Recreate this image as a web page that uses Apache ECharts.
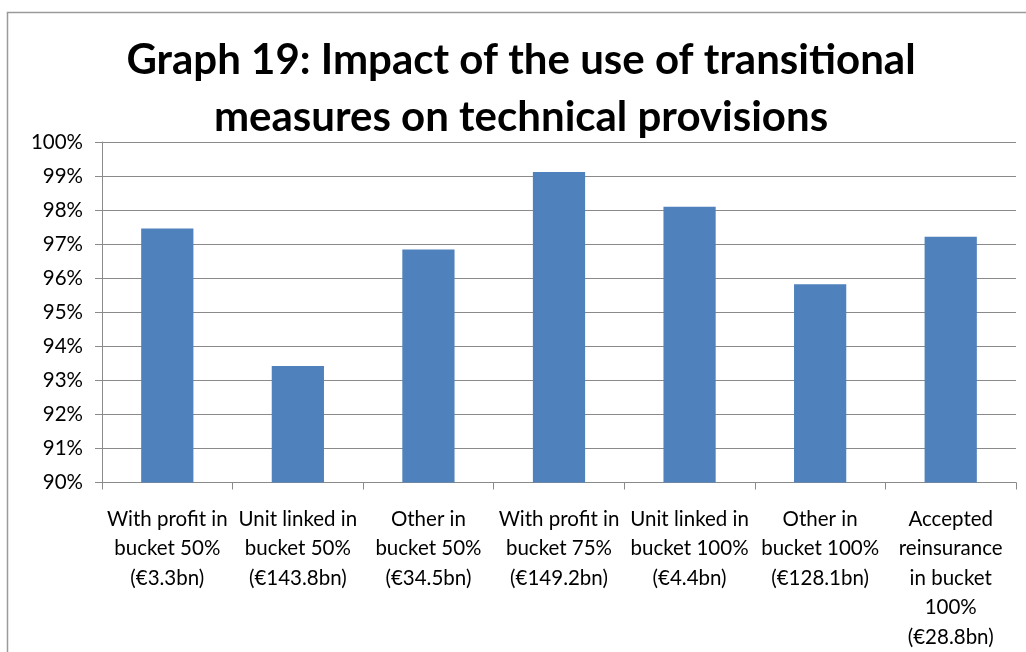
<!DOCTYPE html>
<html>
<head>
    <meta charset="utf-8">
    <title>Graph 19</title>
    <style>
        html, body { margin: 0; padding: 0; background: #fff; }
    </style>
</head>
<body>
    <div id="main" style="width: 1026px; height: 652px;"></div>
    <script src="https://cdn.jsdelivr.net/npm/echarts@6/dist/echarts.min.js"></script>
    <script type="text/javascript">
        // categories (wrapped as in the original)
        var categories = [
            'With profit in\nbucket 50%\n(€3.3bn)',
            'Unit linked in\nbucket 50%\n(€143.8bn)',
            'Other in\nbucket 50%\n(€34.5bn)',
            'With profit in\nbucket 75%\n(€149.2bn)',
            'Unit linked in\nbucket 100%\n(€4.4bn)',
            'Other in\nbucket 100%\n(€128.1bn)',
            'Accepted\nreinsurance\nin bucket\n100%\n(€28.8bn)'
        ];
        // ratio of technical provisions, in %
        var values = [97.46, 93.42, 96.84, 99.12, 98.1, 95.82, 97.22];
        var yMin = 90, yMax = 100, yStep = 1;

        var chartDom = document.getElementById('main');
        var myChart = echarts.init(chartDom);
        var font = 'Lato, "Open Sans", sans-serif';

        var option = {
            animation: false,
            title: {
                text: 'Graph 19: Impact of the use of transitional\nmeasures on technical provisions',
                left: 521,
                textAlign: 'center',
                top: 32,
                padding: 0,
                textStyle: {
                    fontFamily: font,
                    fontSize: 42,
                    fontWeight: 'bold',
                    color: '#000',
                    lineHeight: 57
                }
            },
            graphic: [{
                type: 'rect',
                shape: { x: 7.5, y: 12.5, width: 1040, height: 660 },
                style: { fill: 'none', stroke: '#9a9a9a', lineWidth: 1.5 },
                silent: true
            }],
            grid: { left: 102, right: 10, top: 142, bottom: 169 },
            xAxis: {
                type: 'category',
                data: categories,
                axisLine: { lineStyle: { color: '#8a8a8a', width: 1 } },
                axisTick: { show: true, length: 7, lineStyle: { color: '#8a8a8a' } },
                axisLabel: {
                    interval: 0,
                    margin: 22,
                    color: '#000',
                    fontFamily: font,
                    fontSize: 20.5,
                    lineHeight: 29.5
                }
            },
            yAxis: {
                type: 'value',
                min: yMin,
                max: yMax,
                interval: yStep,
                axisLine: { show: true, lineStyle: { color: '#8a8a8a', width: 1 } },
                axisTick: { show: true, length: 7, lineStyle: { color: '#8a8a8a' } },
                splitLine: { lineStyle: { color: '#8a8a8a', width: 1 } },
                axisLabel: {
                    margin: 19,
                    color: '#000',
                    fontFamily: font,
                    fontSize: 20.5,
                    formatter: '{value}%'
                }
            },
            series: [{
                type: 'bar',
                data: values,
                barWidth: '40%',
                itemStyle: { color: '#4f81bd' }
            }]
        };

        option && myChart.setOption(option);
    </script>
</body>
</html>
